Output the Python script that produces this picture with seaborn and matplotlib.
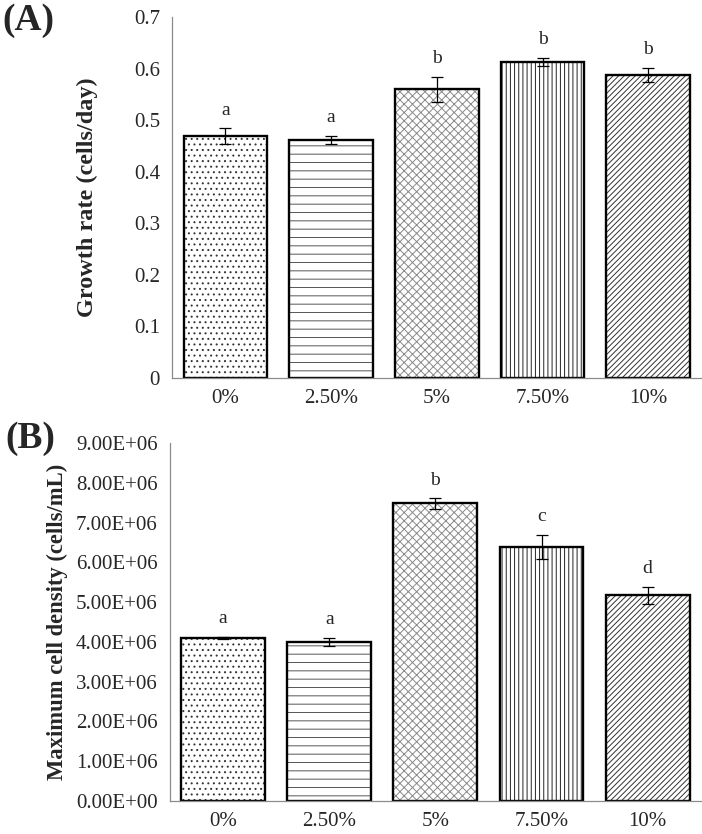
import numpy as np
import matplotlib
matplotlib.use("Agg")
import matplotlib.pyplot as plt
import seaborn as sns

categories = ["0%", "2.50%", "5%", "7.50%", "10%"]
growth_rate = [0.469, 0.462, 0.560, 0.612, 0.587]
growth_err = [0.015, 0.008, 0.024, 0.008, 0.014]
growth_letters = ["a", "a", "b", "b", "b"]
density = [4.09e6, 4.00e6, 7.48e6, 6.39e6, 5.17e6]
density_err = [0.03e6, 0.10e6, 0.13e6, 0.30e6, 0.21e6]
density_letters = ["a", "a", "b", "c", "d"]
hatches = ["...", "--", "xxxx", "||||", "//////"]
hatch_colors = ["#333333", "#555555", "#8a8a8a", "#222222", "#333333"]

sns.set_style("white")
plt.rcParams["font.family"] = ["Liberation Serif", "DejaVu Serif"]
plt.rcParams["hatch.linewidth"] = 0.7

fig = plt.figure(figsize=(7.02, 8.34), dpi=100)
ax1 = fig.add_axes([0.2457, 0.5468, 0.753, 0.4329])
ax2 = fig.add_axes([0.2422, 0.0396, 0.756, 0.4293])


def draw_panel(ax, vals, errs, letters, ylim, yticks, ytlabels, ylabel, label_x, label_size):
    # hatch fill first, outline drawn on top in black
    sns.barplot(x=categories, y=vals, ax=ax, color="white", width=0.79,
                linewidth=0, errorbar=None)
    for p, h, c in zip(ax.patches, hatches, hatch_colors):
        p.set_hatch(h)
        p.set_edgecolor(c)
    sns.barplot(x=categories, y=vals, ax=ax, fill=False, width=0.79,
                edgecolor="black", linewidth=1.7, errorbar=None)
    xs = np.arange(len(categories))
    ax.errorbar(xs, vals, yerr=errs, fmt="none", ecolor="black",
                elinewidth=0.9, capsize=4, capthick=0.9)
    for x, v, e, t in zip(xs, vals, errs, letters):
        ax.annotate(t, (x, v + e), xytext=(0, 7), textcoords="offset points",
                    ha="center", va="bottom", fontsize=14)
    ax.set_xlim(-0.5, len(categories) - 0.5)
    ax.set_ylim(*ylim)
    ax.set_yticks(yticks)
    ax.set_yticklabels(ytlabels, fontsize=15)
    ax.set_xticks(xs)
    ax.set_xticklabels(categories, fontsize=15)
    ax.set_xticks(np.arange(len(categories) + 1) - 0.5, minor=True)
    ax.tick_params(axis="x", which="major", length=0, pad=8)
    ax.tick_params(axis="x", which="minor", length=5, width=0.8, color="#8c8c8c", direction="out")
    ax.tick_params(axis="y", length=5, width=0.8, color="#8c8c8c", direction="out", pad=4)
    for s in ["top", "right"]:
        ax.spines[s].set_visible(False)
    for s in ["left", "bottom"]:
        ax.spines[s].set_color("#8c8c8c")
        ax.spines[s].set_linewidth(0.9)
    ax.set_ylabel(ylabel, fontsize=label_size, fontweight="bold")
    ax.yaxis.set_label_coords(label_x, 0.5)


draw_panel(ax1, growth_rate, growth_err, growth_letters, (0, 0.7),
           np.arange(0, 0.71, 0.1), ["0", "0.1", "0.2", "0.3", "0.4", "0.5", "0.6", "0.7"],
           "Growth rate (cells/day)", -0.141, 17.5)

dticks = np.arange(0, 9.01e6, 1e6)
draw_panel(ax2, density, density_err, density_letters, (0, 9e6),
           dticks, ["%.2E" % t for t in dticks],
           "Maximum cell density (cells/mL)", -0.192, 16.3)

fig.text(0.041, 0.976, "(A)", fontsize=27, fontweight="bold", ha="center", va="center")
fig.text(0.043, 0.474, "(B)", fontsize=27, fontweight="bold", ha="center", va="center")

fig.savefig("out.png", dpi=100)
